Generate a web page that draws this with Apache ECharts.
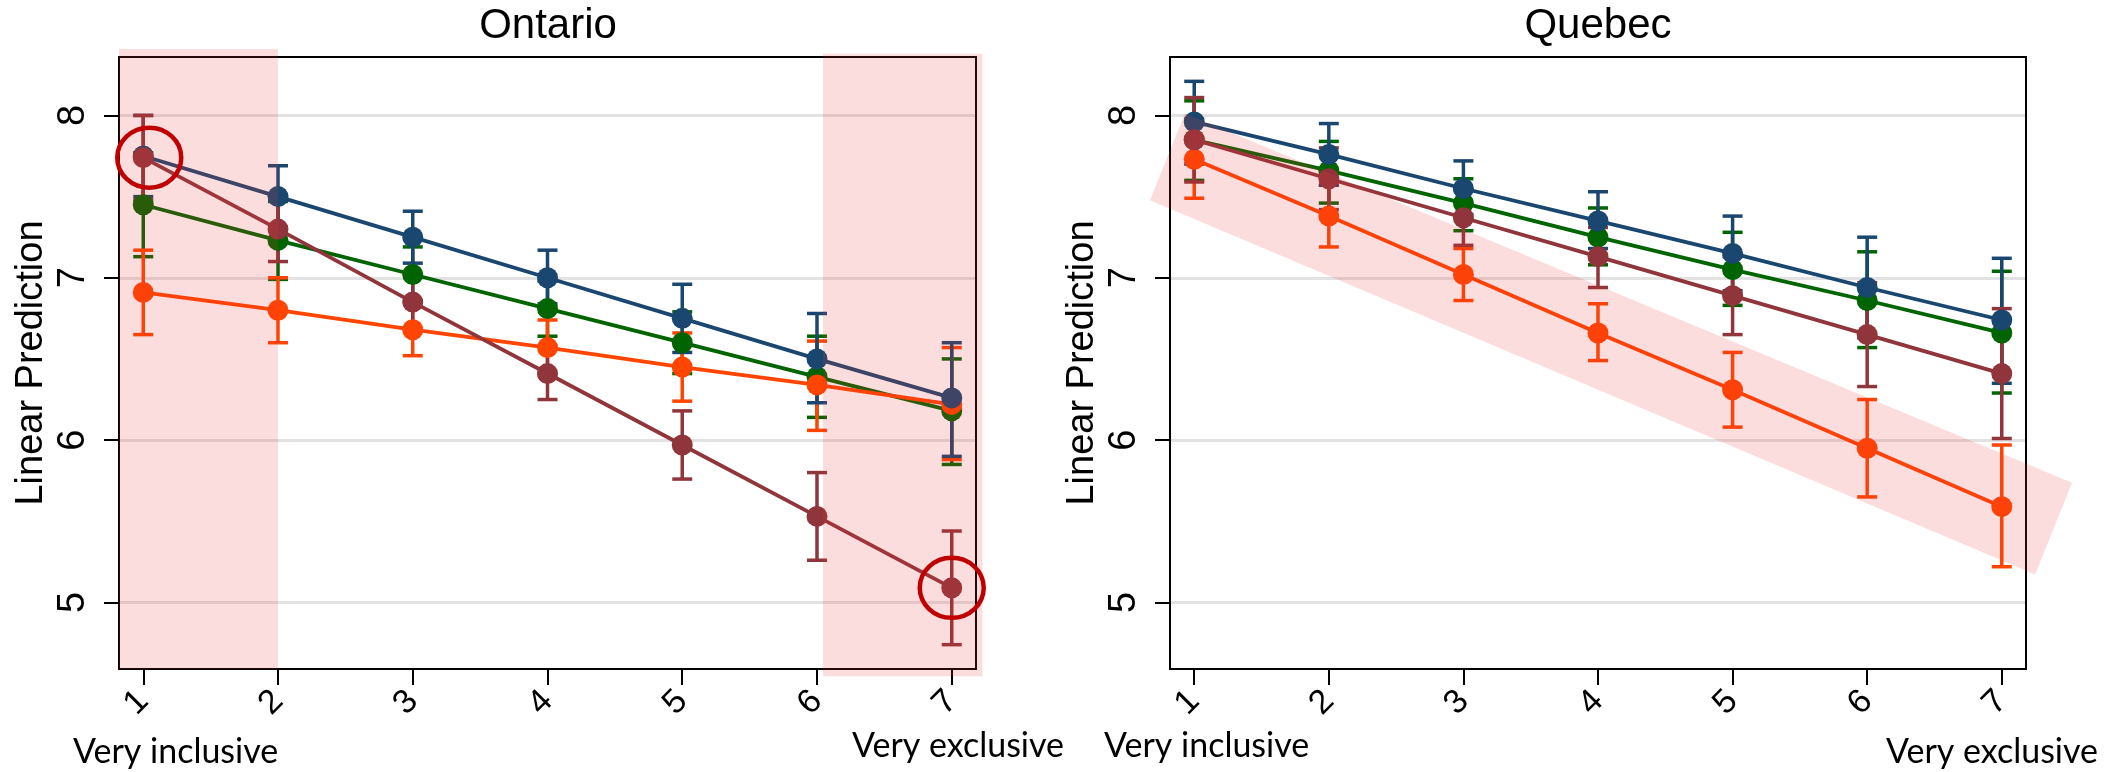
<!DOCTYPE html>
<html lang="en">
<head>
    <meta charset="UTF-8">
    <title>Linear Prediction - Ontario / Quebec</title>
    <style>
        html, body { margin: 0; padding: 0; background: #fff; }
        #chart { width: 2123px; height: 772px; }
    </style>
</head>
<body>
<div id="chart"></div>

<script src="https://cdn.jsdelivr.net/npm/echarts@6/dist/echarts.min.js"></script>
<script>
    // x positions and axis ticks
    const categories = [1, 2, 3, 4, 5, 6, 7];
    const yTicks = [5, 6, 7, 8];

    // Ontario: point estimates and confidence bounds
    const onGreen = [7.45, 7.23, 7.02, 6.81, 6.60, 6.39, 6.18];
    const onGreenLo = [7.13, 6.99, 6.86, 6.64, 6.41, 6.14, 5.85];
    const onGreenHi = [7.77, 7.47, 7.19, 6.98, 6.79, 6.64, 6.50];

    const onOrange = [6.91, 6.80, 6.68, 6.57, 6.45, 6.34, 6.22];
    const onOrangeLo = [6.65, 6.60, 6.52, 6.40, 6.24, 6.06, 5.88];
    const onOrangeHi = [7.17, 7.00, 6.85, 6.74, 6.66, 6.61, 6.57];

    const onBlue = [7.75, 7.50, 7.25, 7.00, 6.75, 6.50, 6.26];
    const onBlueLo = [7.50, 7.31, 7.09, 6.84, 6.54, 6.23, 5.90];
    const onBlueHi = [8.00, 7.69, 7.41, 7.17, 6.96, 6.78, 6.60];

    const onMaroon = [7.74, 7.30, 6.85, 6.41, 5.97, 5.53, 5.09];
    const onMaroonLo = [7.48, 7.10, 6.68, 6.25, 5.76, 5.26, 4.74];
    const onMaroonHi = [8.00, 7.50, 7.02, 6.58, 6.18, 5.80, 5.44];

    // Quebec
    const qcGreen = [7.85, 7.66, 7.46, 7.25, 7.05, 6.86, 6.66];
    const qcGreenLo = [7.60, 7.46, 7.29, 7.08, 6.83, 6.57, 6.29];
    const qcGreenHi = [8.09, 7.84, 7.61, 7.43, 7.28, 7.16, 7.04];

    const qcOrange = [7.73, 7.38, 7.02, 6.66, 6.31, 5.95, 5.59];
    const qcOrangeLo = [7.49, 7.19, 6.86, 6.49, 6.08, 5.65, 5.22];
    const qcOrangeHi = [7.98, 7.57, 7.18, 6.84, 6.54, 6.25, 5.97];

    const qcBlue = [7.96, 7.76, 7.55, 7.35, 7.15, 6.94, 6.74];
    const qcBlueLo = [7.70, 7.57, 7.39, 7.18, 6.92, 6.63, 6.35];
    const qcBlueHi = [8.21, 7.95, 7.72, 7.53, 7.38, 7.25, 7.12];

    const qcMaroon = [7.85, 7.61, 7.37, 7.13, 6.89, 6.65, 6.41];
    const qcMaroonLo = [7.59, 7.42, 7.20, 6.94, 6.65, 6.33, 6.01];
    const qcMaroonHi = [8.11, 7.80, 7.54, 7.31, 7.13, 6.97, 6.81];

    const xMin = 0.82, xMax = 7.18;
    const yMin = 4.59, yMax = 8.36;

    const GREEN = '#006400', ORANGE = '#ff4500', NAVY = '#1a476f', MAROON = '#90353b';
    const PINK = 'rgba(235, 55, 55, 0.17)';
    const FONT = '"Liberation Sans", Arial, sans-serif';
    const NOTE_FONT = 'Lato, "Open Sans", sans-serif';

    let chart = echarts.init(document.getElementById('chart'));

    function errorBars(gi, color, lo, hi, z) {
        return {
            type: 'custom',
            xAxisIndex: gi,
            yAxisIndex: gi,
            z: z,
            data: categories.map((c, i) => [c, lo[i], hi[i]]),
            renderItem: function (params, api) {
                let top = api.coord([api.value(0), api.value(2)]);
                let bot = api.coord([api.value(0), api.value(1)]);
                let w = 10;
                let st = { stroke: color, lineWidth: 3.5 };
                return {
                    type: 'group',
                    children: [
                        { type: 'line', shape: { x1: top[0], y1: top[1], x2: bot[0], y2: bot[1] }, style: st },
                        { type: 'line', shape: { x1: top[0] - w, y1: top[1], x2: top[0] + w, y2: top[1] }, style: st },
                        { type: 'line', shape: { x1: bot[0] - w, y1: bot[1], x2: bot[0] + w, y2: bot[1] }, style: st }
                    ]
                };
            }
        };
    }

    function lineSeries(gi, color, values, z) {
        return {
            type: 'line',
            xAxisIndex: gi,
            yAxisIndex: gi,
            z: z,
            data: categories.map((c, i) => [c, values[i]]),
            symbol: 'circle',
            symbolSize: 21,
            lineStyle: { color: color, width: 3.8 },
            itemStyle: { color: color },
            emphasis: { disabled: true },
            animation: false
        };
    }

    function xAxis(gi) {
        return {
            type: 'value',
            gridIndex: gi,
            min: xMin,
            max: xMax,
            axisLine: { show: false },
            splitLine: { show: false },
            axisTick: { customValues: categories, length: 16, lineStyle: { color: '#000', width: 2 } },
            axisLabel: { customValues: categories, rotate: 45, margin: 27, fontSize: 34, color: '#000', fontFamily: FONT }
        };
    }

    function yAxis(gi) {
        return {
            type: 'value',
            gridIndex: gi,
            min: yMin,
            max: yMax,
            name: 'Linear Prediction',
            nameLocation: 'middle',
            nameRotate: 90,
            nameGap: 68,
            nameTextStyle: { fontSize: 38, color: '#000', fontFamily: FONT },
            axisLine: { show: false },
            axisTick: { customValues: yTicks, length: 15, lineStyle: { color: '#000', width: 2 } },
            axisLabel: { customValues: yTicks, rotate: 90, margin: 26, fontSize: 38, color: '#000', fontFamily: FONT },
            splitLine: { show: true, lineStyle: { color: '#e2e2e2', width: 3 } }
        };
    }

    let option = {
        animation: false,
        grid: [
            { left: 119, top: 57, width: 857, height: 612, show: true, borderColor: '#000', borderWidth: 2, z: 20 },
            { left: 1170, top: 57, width: 856, height: 612, show: true, borderColor: '#000', borderWidth: 2, z: 20 }
        ],
        xAxis: [xAxis(0), xAxis(1)],
        yAxis: [yAxis(0), yAxis(1)],
        series: [
            errorBars(0, GREEN, onGreenLo, onGreenHi, 2),
            errorBars(0, ORANGE, onOrangeLo, onOrangeHi, 2),
            errorBars(0, NAVY, onBlueLo, onBlueHi, 2),
            errorBars(0, MAROON, onMaroonLo, onMaroonHi, 2),
            lineSeries(0, GREEN, onGreen, 3),
            lineSeries(0, ORANGE, onOrange, 4),
            lineSeries(0, NAVY, onBlue, 5),
            lineSeries(0, MAROON, onMaroon, 6),

            errorBars(1, GREEN, qcGreenLo, qcGreenHi, 2),
            errorBars(1, ORANGE, qcOrangeLo, qcOrangeHi, 2),
            errorBars(1, NAVY, qcBlueLo, qcBlueHi, 2),
            errorBars(1, MAROON, qcMaroonLo, qcMaroonHi, 2),
            lineSeries(1, GREEN, qcGreen, 3),
            lineSeries(1, ORANGE, qcOrange, 4),
            lineSeries(1, NAVY, qcBlue, 5),
            lineSeries(1, MAROON, qcMaroon, 6)
        ]
    };

    chart.setOption(option);

    // highlight shapes, placed from data coordinates
    function px(gi, x, y) {
        return chart.convertToPixel({ gridIndex: gi }, [x, y]);
    }

    function pinkRect(gi, x0, y0, x1, y1) {
        let a = px(gi, x0, y1), b = px(gi, x1, y0);
        return {
            type: 'rect', z: 50, silent: true,
            shape: { x: a[0], y: a[1], width: b[0] - a[0], height: b[1] - a[1] },
            style: { fill: PINK }
        };
    }

    function ring(gi, x, y, dx) {
        let p = px(gi, x, y);
        return {
            type: 'ellipse', z: 60, silent: true,
            shape: { cx: p[0] + dx, cy: p[1], rx: 32, ry: 30 },
            style: { fill: 'none', stroke: '#c00000', lineWidth: 4.5 }
        };
    }

    function label(text, x, y, font, size, align) {
        return {
            type: 'text', z: 70, silent: true, x: x, y: y,
            style: { text: text, fontSize: size, fontFamily: font, fill: '#000', align: align, verticalAlign: 'middle' }
        };
    }

    const band = [[0.931, 8.012], [7.522, 5.738], [7.248, 5.172], [0.671, 7.477]];

    chart.setOption({
        graphic: [
            pinkRect(0, xMin, yMin, 2, 8.41),
            pinkRect(0, 6.045, 4.545, 7.228, 8.38),
            {
                type: 'polygon', z: 50, silent: true,
                shape: { points: band.map(p => px(1, p[0], p[1])) },
                style: { fill: PINK }
            },
            ring(0, 1, onMaroon[0], 6),
            ring(0, 7, onMaroon[6], 0),
            label('Ontario', 548, 26, FONT, 42, 'center'),
            label('Quebec', 1598, 26, FONT, 42, 'center'),
            label('Very inclusive', 73, 752, NOTE_FONT, 34, 'left'),
            label('Very exclusive', 852, 746, NOTE_FONT, 34, 'left'),
            label('Very inclusive', 1104, 746, NOTE_FONT, 34, 'left'),
            label('Very exclusive', 1886, 752, NOTE_FONT, 34, 'left')
        ]
    });
</script>
</body>
</html>
